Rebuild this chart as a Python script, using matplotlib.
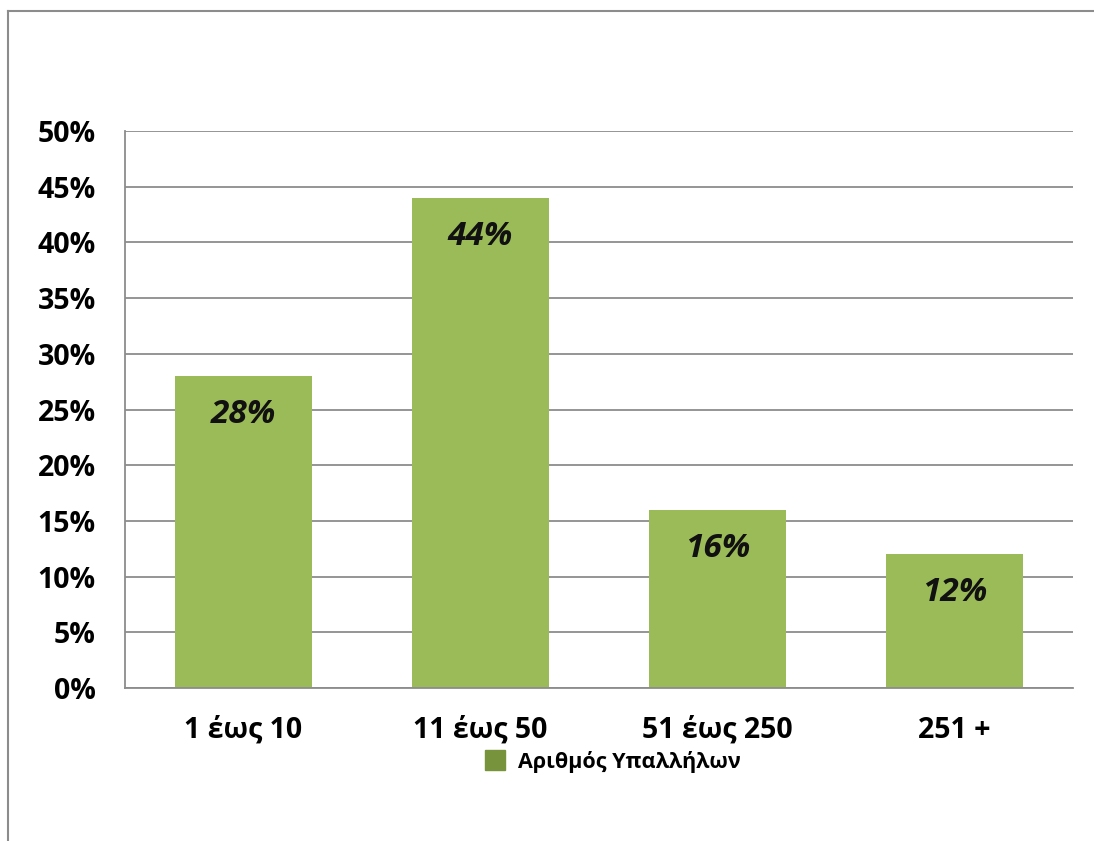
import matplotlib.pyplot as plt
from matplotlib.lines import Line2D
from matplotlib.ticker import MultipleLocator, PercentFormatter

# employees per company, share of respondents
categories = ['1 έως 10', '11 έως 50', '51 έως 250', '251 +']
shares = [28, 44, 16, 12]
series_name = 'Αριθμός Υπαλλήλων'

plt.rcParams['font.family'] = ['Open Sans', 'DejaVu Sans']

fig = plt.figure(figsize=(10.94, 8.41), dpi=100)
fig.patch.set_facecolor('white')

# outer chart frame (left and top edges)
fig.add_artist(Line2D([0.0075, 0.0075], [0.0, 0.987], color='#8c8c8c', lw=1.5))
fig.add_artist(Line2D([0.0075, 1.0], [0.987, 0.987], color='#8c8c8c', lw=1.5))

ax = fig.add_axes([0.1143, 0.1819, 0.8665, 0.6623])
x = range(len(categories))
bars = ax.bar(x, shares, width=0.575, color='#9BBB59', zorder=2)

for b, v in zip(bars, shares):
    ax.text(b.get_x() + b.get_width() / 2, v - 3.45, f'{v}%', ha='center', va='center',
            fontsize=24, fontweight='bold', fontstyle='italic', color='#111111')

ax.set_ylim(0, 50)
ax.set_xlim(-0.5, len(categories) - 0.5)
ax.yaxis.set_major_locator(MultipleLocator(5))
ax.yaxis.set_major_formatter(PercentFormatter(decimals=0))
ax.grid(axis='y', color='#8c8c8c', lw=1.3, zorder=0)
ax.set_xticks(list(x))
ax.set_xticklabels(categories)
ax.tick_params(axis='both', length=0, labelsize=20.5, colors='black')
ax.tick_params(axis='y', pad=21)
ax.tick_params(axis='x', pad=20)
for lbl in ax.get_xticklabels() + ax.get_yticklabels():
    lbl.set_fontweight('bold')

for side in ['top', 'right']:
    ax.spines[side].set_visible(False)
for side in ['left', 'bottom']:
    ax.spines[side].set_color('#8c8c8c')
    ax.spines[side].set_linewidth(1.3)

handle = Line2D([], [], marker='s', ls='none', markersize=15, color='#77933C')
fig.legend([handle], [series_name], loc='center', bbox_to_anchor=(0.555, 0.094),
           frameon=False, handletextpad=0.1, prop={'weight': 'bold', 'size': 15.5})

fig.savefig('out.png', dpi=100, facecolor='white')
